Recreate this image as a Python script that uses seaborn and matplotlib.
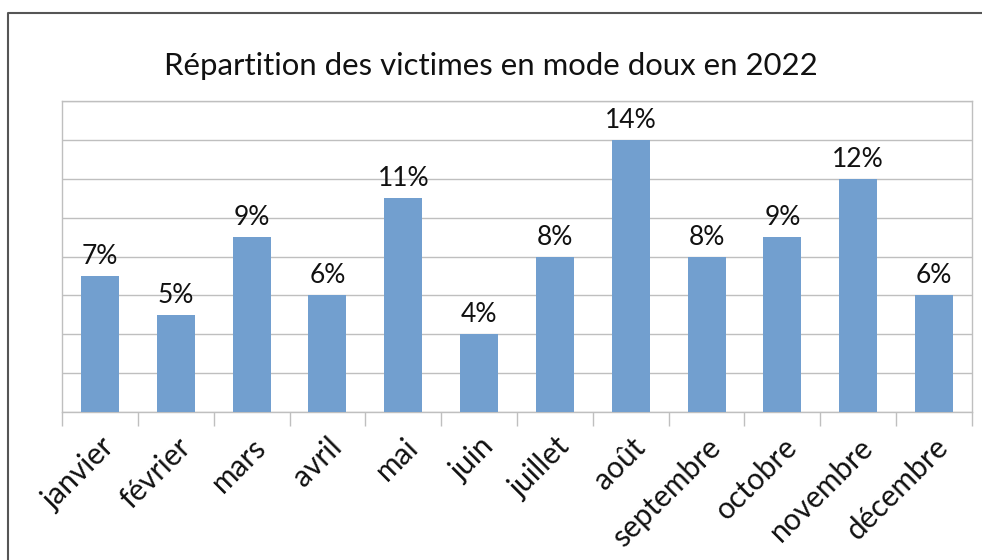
import numpy as np
import pandas as pd
import seaborn as sns
import matplotlib.pyplot as plt
from matplotlib.lines import Line2D

mois = ["janvier", "février", "mars", "avril", "mai", "juin", "juillet",
        "août", "septembre", "octobre", "novembre", "décembre"]
parts = [7, 5, 9, 6, 11, 4, 8, 14, 8, 9, 12, 6]
etiquettes = ["7%", "5%", "9%", "6%", "11%", "4%", "8%", "14%", "8%", "9%", "12%", "6%"]

df = pd.DataFrame({"mois": mois, "part": parts})

sns.set_theme(style="white")
plt.rcParams['font.family'] = ['Lato', 'DejaVu Sans']

fig = plt.figure(figsize=(9.82, 5.6), dpi=100)
ax = fig.add_axes([62 / 982, 1 - 412 / 560, (972 - 62) / 982, (412 - 101) / 560])

sns.barplot(data=df, x="mois", y="part", color="#729fcf", width=0.5,
            saturation=1, linewidth=0, ax=ax, zorder=3)

ax.set_ylim(0, 16)
ax.set_xlim(-0.5, len(mois) - 0.5)
ax.set_yticks(np.arange(0, 17, 2))
ax.set_yticklabels([])
ax.tick_params(axis="y", length=0)
ax.yaxis.grid(True, color="#bfbfbf", linewidth=1)
ax.set_axisbelow(True)
for s in ax.spines.values():
    s.set_color("#bfbfbf")
    s.set_linewidth(1)

ax.set_xticks(np.arange(len(mois)))
ax.set_xticklabels(mois, rotation=45, ha="right", rotation_mode="anchor",
                   fontsize=21.5, color="#111111")
ax.tick_params(axis="x", length=0, pad=15)
ax.set_xticks(np.arange(-0.5, len(mois)), minor=True)
ax.tick_params(axis="x", which="minor", length=10, color="#bfbfbf", width=1,
               bottom=True)
ax.set_xlabel("")
ax.set_ylabel("")

for i, (v, t) in enumerate(zip(parts, etiquettes)):
    ax.annotate(t, (i, v), xytext=(0, 5), textcoords="offset points",
                ha="center", va="bottom", fontsize=19, color="#111111")

fig.text(0.5, 1 - 66 / 560, "Répartition des victimes en mode doux en 2022",
         ha="center", va="center", fontsize=22.4, color="#111111")

x0 = 8 / 982
y0 = 1 - 13 / 560
fig.add_artist(Line2D([x0, x0, 1], [0, y0, y0], transform=fig.transFigure,
                      color="#555555", linewidth=1.5))

fig.savefig("out.png", dpi=100)
